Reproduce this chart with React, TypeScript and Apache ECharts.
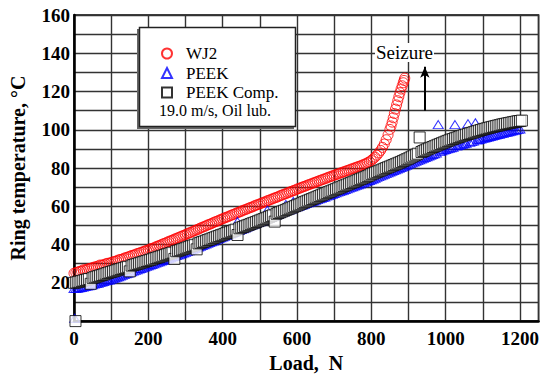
import React, { useEffect, useRef } from "react";
import * as echarts from "echarts";

// [load N, ring temperature °C]
const wj2Data: number[][] = [
  [0, 25.0], [5, 25.3], [10, 25.6], [15, 26.0], [20, 26.2], [25, 26.8], [30, 26.7], [35, 27.1], [40, 27.4], [45, 27.6],
  [50, 27.9], [55, 28.3], [60, 28.4], [65, 28.8], [70, 29.3], [75, 29.2], [80, 29.5], [85, 29.9], [90, 30.2], [95, 30.3],
  [100, 30.6], [105, 31.0], [110, 31.2], [115, 31.5], [120, 32.0], [125, 32.2], [130, 32.4], [135, 32.9], [140, 33.2], [145, 33.5],
  [150, 33.8], [155, 34.3], [160, 34.5], [165, 34.8], [170, 35.3], [175, 35.5], [180, 35.9], [185, 36.2], [190, 36.6], [195, 36.9],
  [200, 37.2], [205, 37.7], [210, 38.0], [215, 38.3], [220, 38.8], [225, 39.2], [230, 39.5], [235, 40.0], [240, 40.4], [245, 40.7],
  [250, 41.2], [255, 41.6], [260, 42.0], [265, 42.3], [270, 42.8], [275, 43.2], [280, 43.6], [285, 44.0], [290, 44.4], [295, 44.8],
  [300, 45.2], [305, 45.7], [310, 46.1], [315, 46.4], [320, 46.9], [325, 47.3], [330, 47.7], [335, 48.1], [340, 48.6], [345, 49.0],
  [350, 49.4], [355, 49.8], [360, 50.3], [365, 50.6], [370, 51.0], [375, 51.5], [380, 51.9], [385, 52.2], [390, 52.7], [395, 53.1],
  [400, 53.5], [405, 53.9], [410, 54.3], [415, 54.6], [420, 55.1], [425, 55.5], [430, 55.8], [435, 56.3], [440, 56.7], [445, 57.0],
  [450, 57.4], [455, 57.9], [460, 58.2], [465, 58.6], [470, 59.0], [475, 59.4], [480, 59.7], [485, 60.2], [490, 60.6], [495, 60.9],
  [500, 61.3], [505, 61.7], [510, 62.1], [515, 62.4], [520, 62.9], [525, 63.2], [530, 63.6], [535, 64.0], [540, 64.4], [545, 64.7],
  [550, 65.1], [555, 65.6], [560, 65.9], [565, 66.3], [570, 66.6], [575, 67.1], [580, 67.4], [585, 67.8], [590, 68.2], [595, 68.5],
  [600, 69.0], [605, 69.3], [610, 69.7], [615, 70.1], [620, 70.4], [625, 70.8], [630, 71.2], [635, 71.5], [640, 71.9], [645, 72.3],
  [650, 72.6], [655, 73.0], [660, 73.4], [665, 73.7], [670, 74.1], [675, 74.4], [680, 74.8], [685, 75.2], [690, 75.5], [695, 75.9],
  [700, 76.2], [705, 76.6], [710, 76.9], [715, 77.3], [720, 77.6], [725, 78.0], [730, 78.3], [735, 78.7], [740, 79.0], [745, 79.4],
  [750, 79.7], [755, 80.1], [760, 80.4], [765, 80.8], [770, 81.1], [775, 81.5], [780, 81.9], [785, 82.3], [790, 82.8], [795, 83.3],
  [800, 84.0], [805, 84.8], [810, 85.7], [815, 86.7], [820, 87.9], [825, 89.2], [830, 90.8], [835, 92.6], [840, 94.8], [845, 97.3],
  [850, 100.2], [853, 102.0], [856, 104.0], [859, 106.3], [862, 108.5], [865, 110.8], [868, 113.0], [871, 115.2], [874, 117.3], [877, 119.4],
  [880, 121.3], [883, 123.0], [886, 124.6], [888, 125.8], [890, 127.0],
];

const peekData: number[][] = [
  [2, 1.5],
  [0, 17.0], [5, 17.0], [10, 17.2], [15, 17.4], [20, 17.6], [25, 17.8], [30, 18.0], [35, 18.3], [40, 18.5], [45, 18.8],
  [50, 19.0], [55, 19.3], [60, 19.6], [65, 19.8], [70, 20.1], [75, 20.4], [80, 20.7], [85, 21.0], [90, 21.3], [95, 21.5],
  [100, 21.8], [105, 22.2], [110, 22.5], [115, 22.9], [120, 23.2], [125, 23.6], [130, 24.0], [135, 24.3], [140, 24.7], [145, 25.0],
  [150, 25.4], [155, 25.8], [160, 26.1], [165, 26.5], [170, 26.8], [175, 27.2], [180, 27.5], [185, 27.9], [190, 28.2], [195, 28.6],
  [200, 28.9], [205, 29.3], [210, 29.6], [215, 30.0], [220, 30.3], [225, 30.7], [230, 31.0], [235, 31.4], [240, 31.7], [245, 32.1],
  [250, 32.4], [255, 32.8], [260, 33.1], [265, 33.5], [270, 33.8], [275, 34.2], [280, 34.5], [285, 34.9], [290, 35.2], [295, 35.6],
  [300, 35.9], [305, 36.3], [310, 36.7], [315, 37.1], [320, 37.5], [325, 37.9], [330, 38.3], [335, 38.7], [340, 39.1], [345, 39.5],
  [350, 39.9], [355, 40.3], [360, 40.7], [365, 41.1], [370, 41.5], [375, 41.9], [380, 42.3], [385, 42.7], [390, 43.1], [395, 43.5],
  [400, 43.9], [405, 44.3], [410, 44.7], [415, 45.1], [420, 45.5], [425, 45.9], [430, 46.3], [435, 46.7], [440, 52.0], [445, 47.5],
  [450, 47.9], [455, 48.3], [460, 48.7], [465, 49.1], [470, 49.5], [475, 49.9], [480, 50.3], [485, 50.7], [490, 51.1], [495, 51.5],
  [500, 51.9], [505, 52.3], [510, 52.7], [515, 53.1], [520, 58.0], [525, 53.9], [530, 54.3], [535, 54.7], [540, 55.1], [545, 55.5],
  [550, 55.9], [555, 56.3], [560, 56.7], [565, 57.1], [570, 61.0], [575, 57.8], [580, 58.2], [585, 58.6], [590, 62.5], [595, 59.3],
  [600, 59.7], [605, 60.0], [610, 60.4], [615, 60.7], [620, 61.1], [625, 61.4], [630, 61.8], [635, 62.1], [640, 62.5], [645, 62.8],
  [650, 63.2], [655, 63.5], [660, 63.9], [665, 64.2], [670, 64.6], [675, 64.9], [680, 65.3], [685, 65.6], [690, 66.0], [695, 66.3],
  [700, 66.7], [705, 67.0], [710, 67.4], [715, 67.7], [720, 68.1], [725, 68.4], [730, 68.8], [735, 69.1], [740, 69.5], [745, 69.9],
  [750, 70.2], [755, 70.6], [760, 71.0], [765, 71.3], [770, 71.7], [775, 72.1], [780, 72.4], [785, 72.8], [790, 73.2], [795, 73.5],
  [800, 73.9], [805, 74.3], [810, 74.7], [815, 75.1], [820, 75.5], [825, 75.9], [830, 76.3], [835, 76.7], [840, 77.1], [845, 77.5],
  [850, 77.9], [855, 78.3], [860, 78.7], [865, 79.1], [870, 79.5], [875, 79.9], [880, 80.3], [885, 80.7], [890, 81.1], [895, 81.5],
  [900, 81.9], [905, 82.3], [910, 82.7], [915, 83.1], [920, 83.5], [925, 83.9], [930, 84.3], [935, 84.7], [940, 85.1], [945, 85.5],
  [950, 85.9], [955, 86.3], [960, 86.7], [965, 87.1], [970, 87.5], [975, 87.9], [980, 102.7], [985, 88.6], [990, 89.0], [995, 89.4],
  [1000, 89.7], [1005, 90.0], [1010, 90.3], [1015, 90.6], [1020, 90.9], [1025, 102.7], [1030, 91.5], [1035, 91.8], [1040, 92.1], [1045, 92.4],
  [1050, 92.7], [1055, 93.0], [1060, 103.2], [1065, 93.5], [1070, 93.8], [1075, 94.1], [1080, 103.7], [1085, 94.6], [1090, 94.9], [1095, 95.2],
  [1100, 95.5], [1105, 95.7], [1110, 96.0], [1115, 96.2], [1120, 96.5], [1125, 96.7], [1130, 97.0], [1135, 97.2], [1140, 97.5], [1145, 97.7],
  [1150, 98.0], [1155, 98.2], [1160, 98.5], [1165, 98.7], [1170, 99.0], [1175, 99.2], [1180, 99.5], [1185, 99.7], [1190, 100.0], [1195, 100.2],
  [1200, 100.4],
];

const compData: number[][] = [
  [4, 0],
  [0, 20.0], [5, 20.2], [10, 20.5], [15, 20.6], [20, 21.0], [25, 21.2], [30, 21.5], [35, 21.7], [40, 22.0], [45, 19.5],
  [50, 22.6], [55, 22.9], [60, 23.2], [65, 23.5], [70, 23.8], [75, 24.1], [80, 24.4], [85, 24.8], [90, 25.1], [95, 25.4],
  [100, 25.7], [105, 26.0], [110, 26.3], [115, 26.6], [120, 26.9], [125, 27.2], [130, 27.5], [135, 27.8], [140, 28.1], [145, 28.4],
  [150, 26.0], [155, 29.0], [160, 29.3], [165, 29.6], [170, 29.9], [175, 30.2], [180, 30.5], [185, 30.8], [190, 31.1], [195, 31.4],
  [200, 31.7], [205, 32.0], [210, 32.3], [215, 32.7], [220, 33.0], [225, 33.3], [230, 33.6], [235, 33.9], [240, 34.2], [245, 34.6],
  [250, 34.9], [255, 35.2], [260, 35.5], [265, 35.8], [270, 32.5], [275, 36.5], [280, 36.8], [285, 37.1], [290, 37.5], [295, 37.8],
  [300, 38.1], [305, 38.5], [310, 38.8], [315, 39.2], [320, 39.5], [325, 39.9], [330, 37.5], [335, 40.6], [340, 40.9], [345, 41.3],
  [350, 41.6], [355, 42.0], [360, 42.4], [365, 42.7], [370, 43.1], [375, 43.4], [380, 43.8], [385, 44.2], [390, 44.5], [395, 44.9],
  [400, 45.2], [405, 45.6], [410, 46.0], [415, 46.3], [420, 46.7], [425, 47.0], [430, 47.4], [435, 47.8], [440, 45.0], [445, 48.5],
  [450, 48.9], [455, 49.2], [460, 49.6], [465, 50.0], [470, 50.3], [475, 50.7], [480, 51.1], [485, 51.4], [490, 51.8], [495, 52.2],
  [500, 52.6], [505, 53.0], [510, 53.3], [515, 53.7], [520, 54.1], [525, 54.5], [530, 54.9], [535, 55.3], [540, 52.0], [545, 56.1],
  [550, 56.5], [555, 56.9], [560, 57.3], [565, 57.7], [570, 58.1], [575, 58.5], [580, 58.9], [585, 59.3], [590, 59.7], [595, 60.1],
  [600, 60.5], [605, 60.9], [610, 61.3], [615, 61.8], [620, 62.2], [625, 62.6], [630, 63.0], [635, 63.4], [640, 63.8], [645, 64.2],
  [650, 64.6], [655, 65.0], [660, 65.4], [665, 65.8], [670, 66.2], [675, 66.6], [680, 67.0], [685, 67.4], [690, 67.8], [695, 68.2],
  [700, 68.6], [705, 69.0], [710, 69.4], [715, 69.8], [720, 70.2], [725, 70.6], [730, 71.0], [735, 71.4], [740, 71.8], [745, 72.2],
  [750, 72.6], [755, 73.0], [760, 73.4], [765, 73.8], [770, 74.2], [775, 74.6], [780, 75.0], [785, 75.4], [790, 75.8], [795, 76.2],
  [800, 76.8], [805, 77.2], [810, 77.6], [815, 78.0], [820, 78.4], [825, 78.8], [830, 79.2], [835, 79.6], [840, 80.0], [845, 80.4],
  [850, 80.8], [855, 81.2], [860, 81.6], [865, 82.0], [870, 82.4], [875, 82.8], [880, 83.2], [885, 83.7], [890, 84.1], [895, 84.6],
  [900, 85.0], [905, 85.5], [910, 86.0], [915, 86.5], [920, 87.0], [925, 87.5], [930, 96.0], [935, 88.4], [940, 88.9], [945, 89.3],
  [950, 89.8], [955, 90.2], [960, 90.6], [965, 91.0], [970, 91.4], [975, 91.8], [980, 92.2], [985, 92.6], [990, 93.0], [995, 93.4],
  [1000, 93.8], [1005, 94.2], [1010, 94.5], [1015, 94.9], [1020, 95.2], [1025, 95.6], [1030, 95.9], [1035, 96.2], [1040, 96.6], [1045, 96.9],
  [1050, 97.2], [1055, 97.5], [1060, 97.8], [1065, 98.1], [1070, 98.4], [1075, 98.7], [1080, 99.0], [1085, 99.3], [1090, 99.6], [1095, 99.9],
  [1100, 100.2], [1105, 100.5], [1110, 100.7], [1115, 101.0], [1120, 101.2], [1125, 101.5], [1130, 101.7], [1135, 102.0], [1140, 102.2], [1145, 102.4],
  [1150, 102.7], [1155, 102.9], [1160, 103.1], [1165, 103.3], [1170, 103.5], [1175, 103.7], [1180, 103.9], [1185, 104.1], [1190, 104.3], [1195, 104.5],
  [1200, 104.6], [1205, 104.8],
];

const seriesNames = ["WJ2", "PEEK", "PEEK Comp."];
const seizureArrow: number[][] = [[944, 110], [944, 133]];
const noteText = "19.0 m/s, Oil lub.";

const FONT = "'Liberation Serif', 'Times New Roman', serif";

export default function App() {
  const ref = useRef<HTMLDivElement>(null);
  useEffect(() => {
    const chart = echarts.init(ref.current!, null, { renderer: "svg" });
    chart.setOption({
      animation: false,
      backgroundColor: "#fff",
      grid: {
        left: 74,
        right: 3,
        top: 15,
        bottom: 53,
        show: true,
        borderColor: "#000",
        borderWidth: 1.5,
      },
      xAxis: {
        type: "value",
        min: 0,
        max: 1250,
        interval: 100,
        name: "Load,  N",
        nameLocation: "middle",
        nameGap: 27,
        nameTextStyle: { fontFamily: FONT, fontWeight: "bold", fontSize: 20, color: "#000" },
        axisLine: { show: true, lineStyle: { color: "#000", width: 2.5 } },
        axisTick: { show: false },
        splitLine: { show: true, lineStyle: { color: "#333", width: 1.4 } },
        axisLabel: {
          margin: 8,
          fontFamily: FONT,
          fontWeight: "bold",
          fontSize: 19,
          color: "#000",
          formatter: (v: number) => (v % 200 === 0 && v <= 1200 ? String(v) : ""),
        },
      },
      yAxis: {
        type: "value",
        min: 0,
        max: 160,
        interval: 10,
        name: "Ring temperature, °C",
        nameLocation: "middle",
        nameGap: 46,
        nameTextStyle: { fontFamily: FONT, fontWeight: "bold", fontSize: 20, color: "#000" },
        axisLine: { show: true, lineStyle: { color: "#000", width: 2.5 } },
        axisTick: { show: false },
        splitLine: { show: true, lineStyle: { color: "#333", width: 1.4 } },
        axisLabel: {
          margin: 4,
          fontFamily: FONT,
          fontWeight: "bold",
          fontSize: 19,
          color: "#000",
          formatter: (v: number) => (v % 20 === 0 && v > 0 ? String(v) : ""),
        },
      },
      legend: {
        show: true,
        orient: "vertical",
        left: 156,
        top: 40,
        z: 110,
        itemWidth: 10,
        itemHeight: 10,
        itemGap: 2.5,
        data: seriesNames,
        textStyle: { fontFamily: FONT, fontSize: 17, color: "#000", padding: [0, 0, 0, 9] },
      },
      graphic: [
        {
          type: "rect",
          z: 100,
          shape: { x: 137, y: 29, width: 157, height: 100 },
          style: { fill: "#666", stroke: "none" },
        },
        {
          type: "rect",
          z: 101,
          shape: { x: 139.5, y: 27.5, width: 156, height: 99 },
          style: { fill: "#fff", stroke: "#222", lineWidth: 1.5 },
        },
        {
          type: "text",
          z: 102,
          x: 159,
          y: 102,
          style: { text: noteText, font: `16px ${FONT}`, fill: "#000" },
        },
        {
          type: "text",
          z: 102,
          x: 375,
          y: 43,
          style: {
            text: "Seizure",
            font: `19px ${FONT}`,
            fill: "#000",
            backgroundColor: "#fff",
            padding: [0, 1],
          },
        },
      ],
      series: [
        {
          name: seriesNames[0],
          type: "scatter",
          data: wj2Data,
          symbol: "circle",
          symbolSize: 10,
          z: 2,
          itemStyle: { color: "rgba(255,255,255,0)", borderColor: "#ff0000", borderWidth: 1 },
          markLine: {
            silent: true,
            symbol: ["none", "arrow"],
            symbolSize: [7, 11],
            label: { show: false },
            lineStyle: { color: "#000", width: 2, type: "solid" },
            data: [[{ coord: seizureArrow[0] }, { coord: seizureArrow[1] }]],
          },
        },
        {
          name: seriesNames[1],
          type: "scatter",
          data: peekData,
          symbol: "triangle",
          symbolSize: [10, 8],
          z: 3,
          itemStyle: { color: "rgba(255,255,255,0)", borderColor: "#0000ff", borderWidth: 1 },
        },
        {
          name: seriesNames[2],
          type: "scatter",
          data: compData,
          symbol: "rect",
          symbolSize: 11,
          z: 4,
          itemStyle: { color: "#fff", borderColor: "#000", borderWidth: 1 },
        },
      ],
    });
    return () => chart.dispose();
  }, []);
  return <div ref={ref} style={{ position: "absolute", left: 0, top: 0, width: 542, height: 378 }} />;
}
